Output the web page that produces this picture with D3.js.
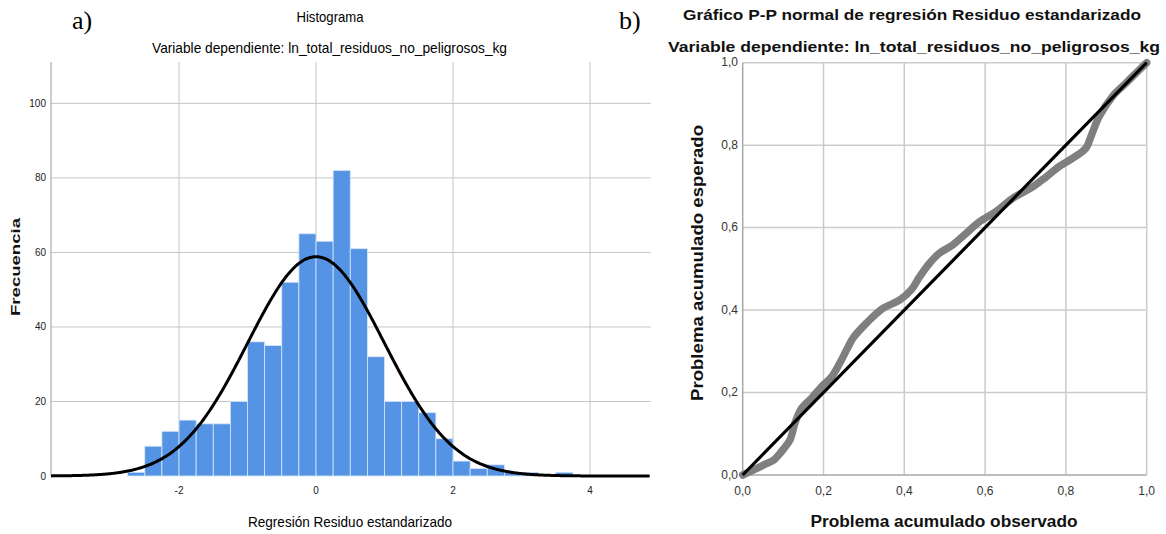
<!DOCTYPE html>
<html>
<head>
<meta charset="utf-8">
<script src="https://cdn.jsdelivr.net/npm/d3@7"></script>
<style>
  html, body { margin: 0; padding: 0; background: #fff; }
  svg { display: block; }
  .narrow { font-family: "Liberation Sans Narrow", "Arial Narrow", "Liberation Sans", Arial, sans-serif; }
  .sans { font-family: "Liberation Sans", Arial, Helvetica, sans-serif; }
  .serif { font-family: "Liberation Serif", "Times New Roman", serif; }
</style>
</head>
<body>
<svg id="chart" width="1166" height="534"></svg>
<script>
// ---- Histogram of standardized residuals ----
const binStarts = [-2.75, -2.5, -2.25, -2.0, -1.75, -1.5, -1.25, -1.0, -0.75, -0.5, -0.25,
                   0.0, 0.25, 0.5, 0.75, 1.0, 1.25, 1.5, 1.75, 2.0, 2.25, 2.5, 2.75, 3.0, 3.25, 3.5];
const binCounts = [1, 8, 12, 15, 14, 14, 20, 36, 35, 52, 65,
                   63, 82, 61, 32, 20, 20, 17, 10, 4, 2, 3, 1, 1, 0, 1];
const binWidth = 0.25;
const histXTicks = [-2, 0, 2, 4];
const histYTicks = [0, 20, 40, 60, 80, 100];
const residualMean = 0;
const residualStdDev = 0.998;

// ---- Normal P-P plot ----
const ppObserved = [0, 0.026, 0.051, 0.076, 0.096, 0.117, 0.129, 0.146, 0.170, 0.199, 0.220,
                    0.240, 0.257, 0.273, 0.306, 0.347, 0.388, 0.417, 0.438, 0.462, 0.487,
                    0.520, 0.553, 0.586, 0.627, 0.668, 0.718, 0.751, 0.783, 0.816, 0.849,
                    0.862, 0.882, 0.915, 0.948, 0.981, 1.0];
const ppExpected = [0, 0.012, 0.024, 0.036, 0.057, 0.085, 0.125, 0.162, 0.186, 0.218, 0.238,
                    0.271, 0.303, 0.332, 0.368, 0.404, 0.424, 0.449, 0.481, 0.513, 0.538,
                    0.558, 0.586, 0.614, 0.639, 0.671, 0.699, 0.723, 0.748, 0.768, 0.792,
                    0.821, 0.869, 0.918, 0.950, 0.982, 1.0];
const ppTicks = [0, 0.2, 0.4, 0.6, 0.8, 1.0];
const ppTickLabels = ["0,0", "0,2", "0,4", "0,6", "0,8", "1,0"];

const svg = d3.select("#chart");

// ===================== a) Histogram =====================
const hx = d3.scaleLinear().domain([-3.869, 4.886]).range([51, 650.7]);
const hy = d3.scaleLinear().domain([0, 111.1]).range([476, 62]);
const hist = svg.append("g");

// grid
hist.append("g").selectAll("line").data(histYTicks.filter(d => d > 0)).join("line")
  .attr("x1", hx.range()[0]).attr("x2", hx.range()[1])
  .attr("y1", d => hy(d)).attr("y2", d => hy(d))
  .attr("stroke", "#c4c4c4").attr("stroke-width", 1);
hist.append("g").selectAll("line").data(histXTicks).join("line")
  .attr("x1", d => hx(d)).attr("x2", d => hx(d))
  .attr("y1", hy.range()[1]).attr("y2", hy(0))
  .attr("stroke", "#c4c4c4").attr("stroke-width", 1);

// left axis line
hist.append("line")
  .attr("x1", hx.range()[0]).attr("x2", hx.range()[0])
  .attr("y1", hy.range()[1]).attr("y2", hy(0))
  .attr("stroke", "#9a9a9a").attr("stroke-width", 1);

// bars
hist.append("g").selectAll("rect").data(binStarts.map((s, i) => ({ s, c: binCounts[i] })).filter(d => d.c > 0))
  .join("rect")
  .attr("x", d => hx(d.s))
  .attr("width", d => hx(d.s + binWidth) - hx(d.s))
  .attr("y", d => hy(d.c))
  .attr("height", d => hy(0) - hy(d.c))
  .attr("fill", "#5594e5")
  .attr("stroke", "#d8e6f8").attr("stroke-width", 0.8);

// fitted normal curve
const totalN = d3.sum(binCounts);
const normalPdf = x => Math.exp(-0.5 * ((x - residualMean) / residualStdDev) ** 2) / (residualStdDev * Math.sqrt(2 * Math.PI));
const curveXs = d3.range(hx.domain()[0], hx.domain()[1] + 0.001, 0.02);
hist.append("path")
  .datum(curveXs)
  .attr("d", d3.line().x(d => hx(d)).y(d => hy(totalN * binWidth * normalPdf(d))).curve(d3.curveBasis))
  .attr("fill", "none").attr("stroke", "#000").attr("stroke-width", 3);

// tick labels
hist.append("g").selectAll("text").data(histYTicks).join("text")
  .attr("class", "narrow")
  .attr("x", 46).attr("y", d => hy(d)).attr("dy", "0.35em")
  .attr("text-anchor", "end").attr("font-size", 10).attr("fill", "#222")
  .text(d => d);
hist.append("g").selectAll("text").data(histXTicks).join("text")
  .attr("class", "narrow")
  .attr("x", d => hx(d)).attr("y", 494)
  .attr("text-anchor", "middle").attr("font-size", 10).attr("fill", "#222")
  .text(d => d);

// titles and axis labels
hist.append("text").attr("class", "narrow")
  .attr("x", 330).attr("y", 22).attr("text-anchor", "middle").attr("font-size", 14.5).attr("fill", "#000")
  .attr("textLength", 67).attr("lengthAdjust", "spacingAndGlyphs")
  .text("Histograma");
hist.append("text").attr("class", "narrow")
  .attr("x", 329.5).attr("y", 53).attr("text-anchor", "middle").attr("font-size", 14.5).attr("fill", "#000")
  .attr("textLength", 355).attr("lengthAdjust", "spacingAndGlyphs")
  .text("Variable dependiente: ln_total_residuos_no_peligrosos_kg");
hist.append("text").attr("class", "narrow")
  .attr("x", 350).attr("y", 527).attr("text-anchor", "middle").attr("font-size", 15).attr("fill", "#000")
  .attr("textLength", 204).attr("lengthAdjust", "spacingAndGlyphs")
  .text("Regresión Residuo estandarizado");
hist.append("text").attr("class", "sans")
  .attr("transform", "translate(20,267) rotate(-90)")
  .attr("text-anchor", "middle").attr("font-size", 13).attr("font-weight", "bold").attr("fill", "#111")
  .attr("textLength", 98).attr("lengthAdjust", "spacingAndGlyphs")
  .text("Frecuencia");

svg.append("text").attr("class", "serif")
  .attr("x", 72).attr("y", 29).attr("font-size", 26).attr("fill", "#000")
  .text("a)");

// ===================== b) Normal P-P plot =====================
const px = d3.scaleLinear().domain([0, 1]).range([742.7, 1146.7]);
const py = d3.scaleLinear().domain([0, 1]).range([475, 62.7]);
const pp = svg.append("g");

pp.append("g").selectAll("line").data(ppTicks.slice(1)).join("line")
  .attr("x1", px(0)).attr("x2", px(1))
  .attr("y1", d => py(d)).attr("y2", d => py(d))
  .attr("stroke", "#cbcbcb").attr("stroke-width", 1.5);
pp.append("g").selectAll("line").data(ppTicks.slice(1)).join("line")
  .attr("x1", d => px(d)).attr("x2", d => px(d))
  .attr("y1", py(1)).attr("y2", py(0))
  .attr("stroke", "#cbcbcb").attr("stroke-width", 1.5);
// axis lines
pp.append("line").attr("x1", px(0)).attr("x2", px(0)).attr("y1", py(1)).attr("y2", py(0))
  .attr("stroke", "#a8a8a8").attr("stroke-width", 1.5);
pp.append("line").attr("x1", px(0)).attr("x2", px(1)).attr("y1", py(0)).attr("y2", py(0))
  .attr("stroke", "#a8a8a8").attr("stroke-width", 1.5);

// observed vs expected cumulative probabilities
pp.append("path")
  .datum(ppObserved.map((o, i) => [o, ppExpected[i]]))
  .attr("d", d3.line().x(d => px(d[0])).y(d => py(d[1])).curve(d3.curveCatmullRom))
  .attr("fill", "none").attr("stroke", "#7f7f7f").attr("stroke-width", 7.5)
  .attr("stroke-linejoin", "round").attr("stroke-linecap", "round");

// reference diagonal
pp.append("line")
  .attr("x1", px(0)).attr("y1", py(0)).attr("x2", px(1)).attr("y2", py(1))
  .attr("stroke", "#000").attr("stroke-width", 3.2);

// tick labels
pp.append("g").selectAll("text").data(ppTicks).join("text")
  .attr("class", "sans")
  .attr("x", d => px(d)).attr("y", 495).attr("text-anchor", "middle")
  .attr("font-size", 12).attr("fill", "#333")
  .text((d, i) => ppTickLabels[i]);
pp.append("g").selectAll("text").data(ppTicks).join("text")
  .attr("class", "sans")
  .attr("x", 738).attr("y", d => py(d)).attr("dy", "0.3em").attr("text-anchor", "end")
  .attr("font-size", 12).attr("fill", "#333")
  .text((d, i) => ppTickLabels[i]);

// titles and axis labels
pp.append("text").attr("class", "sans")
  .attr("x", 912).attr("y", 20).attr("text-anchor", "middle")
  .attr("font-size", 15).attr("font-weight", "bold").attr("fill", "#111")
  .attr("textLength", 458).attr("lengthAdjust", "spacingAndGlyphs")
  .text("Gráfico P-P normal de regresión Residuo estandarizado");
pp.append("text").attr("class", "sans")
  .attr("x", 914).attr("y", 52).attr("text-anchor", "middle")
  .attr("font-size", 15).attr("font-weight", "bold").attr("fill", "#111")
  .attr("textLength", 492).attr("lengthAdjust", "spacingAndGlyphs")
  .text("Variable dependiente: ln_total_residuos_no_peligrosos_kg");
pp.append("text").attr("class", "sans")
  .attr("x", 944).attr("y", 527).attr("text-anchor", "middle")
  .attr("font-size", 16).attr("font-weight", "bold").attr("fill", "#111")
  .attr("textLength", 267).attr("lengthAdjust", "spacingAndGlyphs")
  .text("Problema acumulado observado");
pp.append("text").attr("class", "sans")
  .attr("transform", "translate(703,263) rotate(-90)")
  .attr("text-anchor", "middle").attr("font-size", 16).attr("font-weight", "bold").attr("fill", "#111")
  .attr("textLength", 276).attr("lengthAdjust", "spacingAndGlyphs")
  .text("Problema acumulado esperado");

svg.append("text").attr("class", "serif")
  .attr("x", 619).attr("y", 29).attr("font-size", 26).attr("fill", "#000")
  .text("b)");
</script>
</body>
</html>
